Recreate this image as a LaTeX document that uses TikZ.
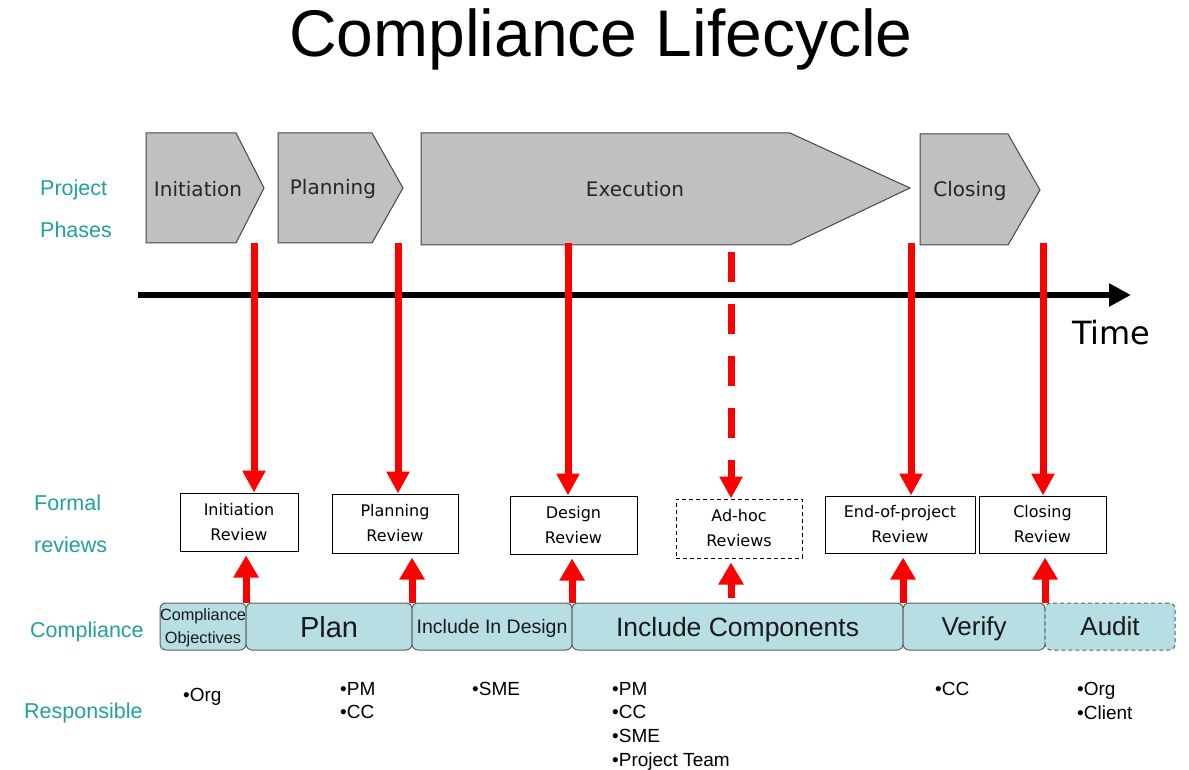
\documentclass[tikz,border=0pt]{standalone}
\usepackage{fontspec}
\setmainfont{Liberation Sans}
\newfontfamily\verdfont{DejaVu Sans}
\usetikzlibrary{arrows.meta,positioning}
\definecolor{phasegray}{RGB}{192,192,192}
\definecolor{phaseline}{RGB}{70,70,70}
\definecolor{labelteal}{RGB}{32,160,158}
\definecolor{barfill}{RGB}{183,222,226}
\definecolor{barline}{RGB}{95,95,95}
\definecolor{redline}{RGB}{255,0,0}
\tikzstyle{phase} = [draw=phaseline, fill=phasegray, line width=1pt, line join=miter]
\tikzstyle{phaseText} = [font=\verdfont\fontsize{20}{24}\selectfont, text=black!85]
\tikzstyle{reviewBox} = [rectangle, draw, fill=white, line width=1pt, align=center, inner sep=0pt, font=\verdfont\fontsize{16}{25}\selectfont]
\tikzstyle{compSeg} = [rectangle, draw=barline, fill=barfill, rounded corners=6pt, line width=1pt, minimum height=47pt, inner sep=0pt, outer sep=0pt, text depth=0pt, text=black!90]
\tikzstyle{rowLabel} = [anchor=west, align=left, text=labelteal, inner sep=0pt, font=\fontsize{21.5}{42}\selectfont]
\tikzstyle{whoList} = [anchor=north west, align=left, inner sep=0pt, font=\fontsize{19}{23.7}\selectfont]
\tikzstyle{downArrow} = [draw=redline, line width=7pt, -{Triangle[width=22pt,length=22pt]}]
\tikzstyle{upArrow} = [draw=redline, line width=7pt, -{Triangle[width=24pt,length=22pt]}, shorten >=4pt]

\begin{document}
\begin{tikzpicture}[x=1pt, y=-1pt, node distance=0pt]
  \useasboundingbox (0,0) rectangle (1189,770);

  % title
  \node [anchor=base, inner sep=0pt, font=\fontsize{66}{70}\selectfont] (title) at (601,57) {Compliance Lifecycle};

  % project phases
  \draw [phase] (146,133) -- (236,133) -- (264,188) -- (236,243) -- (146,243) -- cycle;
  \draw [phase] (278,133) -- (372,133) -- (403,188) -- (372,243) -- (278,243) -- cycle;
  \draw [phase] (421,133) -- (790,133) -- (910,188) -- (790,245) -- (421,245) -- cycle;
  \draw [phase] (920,134) -- (1008,134) -- (1040,190) -- (1008,245) -- (920,245) -- cycle;
  \node [phaseText] (init) at (198,189) {Initiation};
  \node [phaseText] (plng) at (333,189) {Planning};
  \node [phaseText] (exec) at (635,189) {Execution};
  \node [phaseText] (clos) at (970,191) {Closing};

  % time axis
  \coordinate (tstart) at (138,295);
  \coordinate (tend) at (1131,295);
  \draw [line width=6pt, -{Triangle[width=22pt,length=22pt]}] (tstart) -- (tend);
  \node [anchor=base west, inner sep=0pt, font=\verdfont\fontsize{32}{36}\selectfont] (time) at (1072,344) {Time};

  % row labels
  \node [rowLabel] (lblPhases) at (40,209) {Project\\Phases};
  \node [rowLabel] (lblReviews) at (34,524) {Formal\\reviews};
  \node [rowLabel] (lblComp) at (30,632) {Compliance};
  \node [rowLabel] (lblResp) at (24,713) {Responsible};

  % formal reviews
  \node [reviewBox, minimum width=118pt, minimum height=58pt] (initRev) at (239,522) {Initiation\\Review};
  \node [reviewBox, minimum width=126pt, minimum height=59pt] (planRev) at (395,523.5) {Planning\\Review};
  \node [reviewBox, minimum width=127pt, minimum height=58pt] (desRev) at (573.5,525) {Design\\Review};
  \node [reviewBox, dash pattern=on 4pt off 3pt, minimum width=126pt, minimum height=59pt] (adhocRev) at (739,528.5) {Ad-hoc\\Reviews};
  \node [reviewBox, minimum width=150pt, minimum height=57pt] (endRev) at (900,524.5) {End-of-project\\Review};
  \node [reviewBox, minimum width=127pt, minimum height=57pt] (closRev) at (1042.5,524.5) {Closing\\Review};

  % compliance bar
  \node [compSeg, align=center, minimum width=86pt, anchor=west, font=\fontsize{16.3}{23}\selectfont] (objSeg) at (160,626.5) {Compliance\\Objectives};
  \node [compSeg, minimum width=166pt, right=of objSeg, font=\fontsize{29}{32}\selectfont] (planSeg) {Plan};
  \node [compSeg, minimum width=160pt, right=of planSeg, font=\fontsize{19.5}{22}\selectfont] (desSeg) {Include In Design};
  \node [compSeg, minimum width=331pt, right=of desSeg, font=\fontsize{26.5}{30}\selectfont] (compSeg) {Include Components};
  \node [compSeg, minimum width=142pt, right=of compSeg, font=\fontsize{26}{30}\selectfont] (verSeg) {Verify};
  \node [compSeg, dash pattern=on 4pt off 3pt, minimum width=130pt, right=of verSeg, font=\fontsize{26}{30}\selectfont] (audSeg) {Audit};

  % phases -> reviews
  \coordinate (d1) at (254,243);
  \coordinate (d2) at (398,243);
  \coordinate (d3) at (568,243);
  \coordinate (d4) at (731,252);
  \coordinate (d5) at (911,243);
  \coordinate (d6) at (1043,243);
  \draw [downArrow] (d1) -- (d1 |- initRev.north);
  \draw [downArrow] (d2) -- (d2 |- planRev.north);
  \draw [downArrow] (d3) -- (d3 |- desRev.north);
  \draw [downArrow, dash pattern=on 30pt off 22pt] (d4) -- (d4 |- adhocRev.north);
  \draw [downArrow] (d5) -- (d5 |- endRev.north);
  \draw [downArrow] (d6) -- (d6 |- closRev.north);

  % compliance -> reviews
  \coordinate (u4) at (731,598);
  \draw [upArrow] (objSeg.north east) -- (objSeg.north east |- initRev.south);
  \draw [upArrow] (planSeg.north east) -- (planSeg.north east |- planRev.south);
  \draw [upArrow] (desSeg.north east) -- (desSeg.north east |- desRev.south);
  \draw [upArrow] (u4) -- (u4 |- adhocRev.south);
  \draw [upArrow] (compSeg.north east) -- (compSeg.north east |- endRev.south);
  \draw [upArrow] (verSeg.north east) -- (verSeg.north east |- closRev.south);

  % responsible
  \node [whoList] (whoObj) at (183,688) {•Org};
  \node [whoList] (whoPlan) at (340,682) {•PM\\•CC};
  \node [whoList] (whoDes) at (472,682) {•SME};
  \node [whoList] (whoComp) at (612,682) {•PM\\•CC\\•SME\\•Project Team};
  \node [whoList] (whoVer) at (935,682) {•CC};
  \node [whoList] (whoAud) at (1077,682) {•Org\\•Client};
\end{tikzpicture}
\end{document}
